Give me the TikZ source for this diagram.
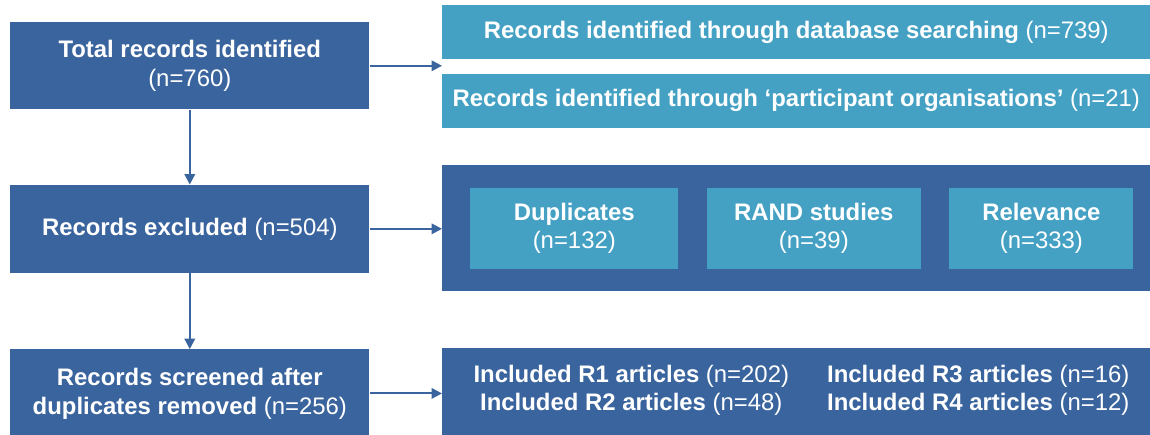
\documentclass[tikz,border=0pt]{standalone}
\usepackage{fontspec}
\setmainfont{Liberation Sans}
\usetikzlibrary{arrows.meta, positioning}

\definecolor{darkblue}{RGB}{58,100,158}
\definecolor{lightblue}{RGB}{68,161,196}

\begin{document}
\begin{tikzpicture}[
  font=\fontsize{17}{20.5}\selectfont,
  box/.style={
    fill=darkblue,
    text=white,
    align=center,
    inner sep=0pt,
    minimum width=8.975cm,
    minimum height=2.2cm
  },
  bar/.style={
    fill=lightblue,
    text=white,
    align=center,
    inner sep=0pt,
    minimum width=17.7cm,
    minimum height=1.35cm
  },
  frame/.style={
    fill=darkblue,
    inner sep=0pt,
    minimum width=17.7cm
  },
  sub/.style={
    fill=lightblue,
    text=white,
    align=center,
    inner sep=0pt,
    minimum height=2.025cm
  },
  arrow/.style={-{Triangle[length=2.6mm,width=2.6mm]}, line width=1.4pt, darkblue}
]
\useasboundingbox (0,0) rectangle (28.75,-10.85);

% --- Left column ---
\node[box, anchor=north west, minimum height=2.175cm] (total) at (0.25,-0.55)
{\textbf{Total records identified}\\ (n=760)};

\node[box, below=1.875cm of total] (excl)
{\textbf{Records excluded} (n=504)};

\node[box, below=1.9cm of excl] (screened)
{\textbf{Records screened after}\\ \textbf{duplicates removed} (n=256)};

\draw[arrow] (total.south) -- (excl.north);
\draw[arrow] (excl.south) -- (screened.north);

% --- Sources ---
\node[bar, anchor=north west] (db) at (11.05,-0.125)
{\textbf{Records identified through database searching} (n=739)};

\node[bar, below=0.35cm of db] (part)
{\textbf{Records identified through `participant organisations'} (n=21)};

\coordinate (split) at (total.east -| db.west);
\draw[arrow] (total.east) -- (split);

% --- Exclusions ---
\node[frame, anchor=north west, minimum height=3.15cm] (exframe) at (11.05,-4.125) {};

\node[sub, right=0.7cm of exframe.west, minimum width=5.2cm] (dup)
{\textbf{Duplicates}\\ (n=132)};
\node[sub, right=0.7cm of dup, minimum width=5.35cm] (rand)
{\textbf{RAND studies}\\ (n=39)};
\node[sub, right=0.7cm of rand, minimum width=4.6cm] (relev)
{\textbf{Relevance}\\ (n=333)};

\draw[arrow] (excl.east) -- (excl.east -| exframe.west);

% --- Included ---
\node[frame, anchor=north west, minimum height=2.2cm] (incl) at (11.05,-8.7) {};

\node[text=white, align=center, inner sep=0pt] (inclA) at ([xshift=-4.125cm,yshift=0.05cm]incl.center)
{\textbf{Included R1 articles} (n=202)\\ \textbf{Included R2 articles} (n=48)};
\node[text=white, align=center, inner sep=0pt] (inclB) at ([xshift=4.55cm,yshift=0.05cm]incl.center)
{\textbf{Included R3 articles} (n=16)\\ \textbf{Included R4 articles} (n=12)};

\draw[arrow] (screened.east) -- (screened.east -| incl.west);

\end{tikzpicture}
\end{document}
